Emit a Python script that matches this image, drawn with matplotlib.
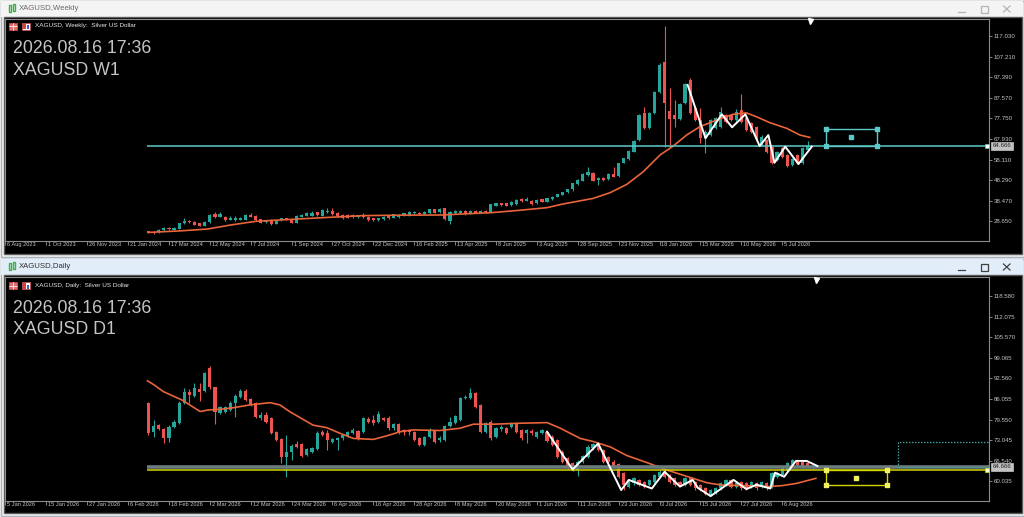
import numpy as np
import matplotlib
matplotlib.use("Agg")
import matplotlib.pyplot as plt
import matplotlib.transforms as mtransforms
from matplotlib.patches import Rectangle

plt.rcParams['font.family'] = ['Liberation Sans', 'DejaVu Sans']

# ---------------- weekly XAGUSD (W1) ----------------
w_open = [24.0, 23.7, 23.6, 24.5, 25.6, 24.7, 25.0, 28.0, 29.0, 28.6,
          27.7, 26.6, 28.2, 32.0, 30.9, 30.9, 29.5, 29.3, 29.4, 29.3,
          31.7, 31.4, 29.6, 28.3, 29.3, 27.6, 29.3, 30.1, 29.6, 28.0,
          30.9, 31.4, 31.4, 33.0, 31.2, 33.1, 33.4, 32.8, 31.7, 31.7,
          31.7, 30.7, 31.5, 30.9, 30.1, 29.3, 29.6, 31.2, 30.4, 30.6,
          31.7, 31.7, 32.5, 32.8, 32.0, 32.5, 34.4, 33.0, 34.9, 28.8,
          32.5, 32.8, 33.8, 32.5, 33.6, 32.8, 33.8, 33.3, 36.2, 37.3,
          37.3, 36.5, 36.9, 39.2, 38.5, 38.5, 37.3, 39.2, 38.1, 39.3,
          40.4, 41.4, 42.5, 43.9, 46.5, 48.1, 50.8, 51.9, 48.4, 49.2,
          48.7, 51.2, 50.3, 56.7, 58.2, 61.9, 67.5, 80.5, 73.0, 80.2,
          90.5, 104.8, 81.4, 79.4, 77.3, 84.9, 96.1, 82.6, 77.0, 68.3,
          69.8, 73.0, 73.8, 79.4, 79.4, 77.0, 81.8, 77.8, 75.4, 73.8,
          65.1, 67.5, 64.3, 57.9, 63.5, 60.3, 55.5, 60.3, 56.3, 62.8]
w_close = [23.3, 23.1, 24.5, 25.6, 24.9, 25.5, 27.7, 29.0, 28.3, 27.1,
           26.6, 28.5, 31.8, 30.6, 32.0, 29.3, 30.1, 30.4, 30.1, 31.7,
           30.9, 29.3, 28.0, 29.1, 27.3, 29.0, 30.1, 29.5, 28.0, 31.2,
           31.7, 32.5, 32.8, 31.5, 34.1, 33.8, 32.2, 31.2, 30.1, 30.4,
           30.6, 31.5, 30.6, 29.3, 29.3, 30.1, 30.9, 30.1, 32.0, 31.7,
           32.5, 33.1, 33.3, 32.0, 33.1, 34.4, 32.8, 34.7, 29.6, 33.3,
           33.6, 33.6, 32.2, 33.6, 32.8, 33.8, 33.0, 36.8, 37.3, 36.3,
           36.2, 38.1, 38.9, 38.4, 39.3, 36.8, 38.9, 38.1, 39.6, 40.4,
           41.6, 42.5, 43.9, 46.8, 48.4, 51.2, 52.4, 48.1, 49.2, 48.4,
           51.2, 50.0, 56.3, 58.7, 62.2, 67.1, 79.4, 73.0, 80.2, 90.5,
           103.2, 84.9, 77.3, 77.3, 84.6, 94.0, 80.2, 77.0, 68.3, 71.4,
           77.0, 77.8, 81.0, 76.2, 77.0, 81.0, 76.2, 72.2, 71.4, 67.8,
           69.0, 61.9, 56.7, 61.9, 59.5, 55.0, 58.2, 56.7, 63.5, 64.67]
w_high = [24.2, 24.0, 24.8, 26.0, 26.1, 25.8, 28.0, 30.1, 29.4, 28.9,
          28.0, 28.8, 32.2, 33.0, 33.0, 31.3, 31.2, 31.2, 30.6, 32.0,
          32.5, 31.8, 30.0, 29.4, 29.6, 29.3, 30.4, 30.5, 29.9, 31.5,
          32.0, 33.3, 33.4, 33.3, 34.5, 34.9, 34.9, 33.1, 32.0, 32.0,
          32.0, 31.8, 32.5, 31.2, 30.4, 30.4, 31.2, 31.5, 32.3, 32.0,
          32.8, 33.4, 33.6, 33.1, 33.4, 34.7, 34.7, 35.0, 35.2, 33.6,
          33.9, 33.9, 34.1, 33.9, 33.9, 34.1, 34.1, 37.1, 37.6, 37.6,
          37.6, 38.4, 39.2, 39.6, 40.1, 38.8, 39.2, 39.5, 39.9, 40.7,
          41.9, 42.8, 44.2, 47.1, 48.8, 51.6, 54.7, 52.2, 50.0, 49.6,
          51.6, 54.7, 56.7, 59.1, 62.6, 67.5, 80.0, 83.3, 80.8, 91.0,
          104.0, 121.8, 92.1, 86.5, 85.2, 94.5, 96.8, 83.0, 82.6, 72.0,
          77.6, 78.3, 83.0, 80.0, 79.9, 82.1, 89.4, 78.3, 75.9, 74.3,
          69.6, 68.0, 64.8, 62.4, 64.0, 60.8, 58.7, 60.8, 64.0, 67.0]
w_low = [23.1, 22.5, 23.3, 24.3, 24.6, 24.5, 24.8, 27.6, 28.0, 26.8,
         26.3, 26.3, 28.0, 30.3, 30.6, 29.0, 29.2, 29.0, 29.1, 29.1,
         30.6, 29.0, 27.7, 28.0, 27.0, 27.3, 29.0, 29.2, 27.7, 27.8,
         30.6, 31.1, 31.1, 31.2, 31.0, 32.8, 31.9, 30.9, 29.8, 30.1,
         30.3, 30.4, 30.3, 29.0, 29.0, 29.0, 29.3, 29.8, 30.1, 30.3,
         31.4, 31.4, 32.2, 31.7, 31.7, 32.2, 32.5, 32.7, 29.3, 27.5,
         32.2, 32.5, 31.9, 32.2, 32.5, 32.5, 32.7, 33.0, 35.9, 36.0,
         35.9, 36.2, 36.6, 38.1, 38.2, 36.5, 37.0, 37.8, 37.8, 39.0,
         40.1, 41.1, 42.2, 43.3, 46.2, 47.8, 50.5, 47.8, 46.0, 48.0,
         48.4, 49.7, 50.0, 56.3, 57.9, 61.5, 67.1, 72.5, 72.6, 79.8,
         90.0, 64.3, 64.3, 73.8, 76.8, 84.4, 79.7, 76.5, 65.9, 61.1,
         69.3, 72.5, 73.3, 75.7, 76.5, 76.5, 75.7, 71.7, 70.9, 67.3,
         64.6, 61.4, 56.2, 57.4, 59.0, 54.5, 55.0, 56.2, 55.8, 62.4]

w_ma_bar = [0, 6, 11.5, 16, 21, 27, 35.5, 42, 48.5, 57.5, 61.5, 67, 71.5, 78,
            81, 87, 90.3, 93.6, 96.8, 100.1, 102.7, 105.3, 107.9, 111.2,
            114.4, 117, 119, 121.6, 124.9, 127.5, 129.4]
w_ma_val = [23.4, 24.1, 25.0, 26.9, 28.7, 29.5, 30.6, 31.4, 31.6, 31.7, 32.2,
            32.8, 33.7, 35.2, 36.9, 39.6, 42.3, 46.3, 52.3, 60.3, 64.6, 69.8,
            73.8, 77.0, 79.7, 80.4, 78.5, 75.7, 73.0, 69.8, 68.7]

w_zz_bar = [105.5, 109, 112.2, 114.2, 116.8, 119.6, 121.3, 122.5, 124.6, 127.2, 129.8]
w_zz_val = [93.7, 68.3, 79.7, 73.5, 79.7, 64.6, 69.8, 56.6, 64.3, 56.0, 64.3]

w_ticks = [117.030, 107.210, 97.390, 87.570, 77.750, 67.930, 58.110, 48.290, 38.470, 28.650]
w_dates = ["6 Aug 2023", "1 Oct 2023", "26 Nov 2023", "21 Jan 2024", "17 Mar 2024",
           "12 May 2024", "7 Jul 2024", "1 Sep 2024", "27 Oct 2024", "22 Dec 2024",
           "16 Feb 2025", "13 Apr 2025", "8 Jun 2025", "3 Aug 2025", "28 Sep 2025",
           "23 Nov 2025", "18 Jan 2026", "15 Mar 2026", "10 May 2026", "5 Jul 2026"]

# ---------------- daily XAGUSD (D1) ----------------
d_open = [84.9, 75.6, 77.8, 76.5, 73.8, 77.3, 78.6, 84.9, 88.2, 87.1,
          89.2, 88.7, 95.7, 89.7, 81.7, 82.1, 82.6, 84.9, 86.8, 88.7,
          86.1, 84.7, 80.2, 81.0, 80.0, 75.7, 73.3, 67.8, 69.4, 71.7,
          71.7, 68.4, 69.4, 70.3, 75.7, 75.4, 72.6, 73.1, 73.6, 74.4,
          75.4, 76.0, 75.7, 79.6, 79.4, 78.9, 80.0, 80.2, 76.8, 78.2,
          76.3, 76.3, 75.7, 73.6, 71.5, 74.0, 76.0, 73.1, 73.1, 77.5,
          78.6, 79.4, 86.3, 86.3, 87.9, 84.2, 75.7, 78.9, 74.2, 76.5,
          76.8, 77.3, 78.4, 76.3, 75.2, 76.1, 74.2, 75.4, 75.7, 74.2,
          73.1, 69.4, 67.3, 65.7, 63.6, 66.3, 67.8, 70.5, 71.8, 70.0,
          67.8, 66.3, 65.4, 62.6, 58.4, 59.4, 60.5, 59.9, 58.9, 59.9,
          61.5, 63.1, 62.1, 61.0, 59.9, 58.9, 61.0, 59.9, 58.9, 57.8,
          55.7, 56.5, 57.8, 58.9, 60.5, 58.4, 59.9, 59.4, 58.4, 59.4,
          58.4, 59.4, 58.4, 61.5, 62.1, 63.6, 65.2, 66.3, 66.3, 65.7,
          64.3]
d_close = [75.2, 77.5, 76.6, 73.6, 77.3, 78.9, 84.9, 88.4, 87.3, 89.4,
           88.4, 94.2, 89.7, 82.1, 83.6, 83.6, 84.9, 87.1, 88.7, 85.7,
           84.2, 80.5, 81.0, 78.9, 75.4, 73.1, 67.8, 69.4, 71.3, 71.0,
           68.0, 70.3, 70.5, 75.4, 74.7, 73.1, 73.3, 73.6, 74.7, 75.7,
           76.3, 73.6, 80.0, 78.9, 78.4, 81.2, 79.4, 76.8, 78.2, 75.4,
           75.7, 75.7, 73.1, 71.5, 74.0, 76.0, 72.6, 73.6, 77.5, 78.9,
           80.7, 86.3, 86.8, 87.9, 83.6, 75.7, 78.4, 73.6, 76.8, 77.3,
           75.4, 78.4, 75.7, 73.6, 76.3, 75.2, 75.7, 76.3, 72.8, 71.5,
           67.8, 66.3, 64.2, 63.6, 66.3, 68.1, 71.0, 71.8, 70.0, 66.3,
           66.3, 64.7, 61.5, 58.9, 60.5, 61.0, 58.9, 58.4, 60.5, 62.1,
           63.1, 61.5, 59.9, 58.9, 58.9, 61.0, 58.9, 57.8, 57.3, 56.1,
           57.3, 57.8, 59.4, 60.5, 58.4, 59.4, 57.8, 57.8, 59.9, 57.8,
           59.9, 57.8, 62.6, 62.6, 64.2, 65.7, 66.8, 65.2, 64.7, 64.7,
           64.67]
d_high = [85.2, 79.4, 78.2, 76.8, 77.7, 79.3, 85.3, 89.4, 89.1, 91.2,
          91.0, 94.7, 96.6, 90.0, 84.0, 84.0, 85.3, 87.5, 89.1, 89.1,
          86.5, 85.1, 81.8, 82.0, 80.4, 76.1, 73.7, 74.7, 71.7, 72.9,
          72.1, 70.7, 70.9, 75.8, 76.4, 76.3, 73.7, 74.0, 75.1, 76.1,
          76.9, 76.4, 80.4, 80.3, 81.1, 82.3, 80.4, 80.6, 78.6, 78.6,
          76.7, 76.7, 76.1, 74.0, 74.4, 76.8, 76.4, 74.5, 77.9, 80.5,
          81.1, 86.7, 87.4, 89.4, 88.3, 84.6, 78.8, 79.3, 77.2, 77.7,
          77.2, 78.9, 78.8, 76.7, 76.7, 76.5, 76.1, 76.7, 76.1, 74.6,
          73.5, 69.8, 67.7, 66.1, 66.7, 68.5, 71.4, 72.2, 72.2, 70.4,
          68.2, 66.7, 65.8, 63.0, 60.9, 61.4, 60.9, 60.3, 60.9, 62.5,
          63.5, 63.5, 62.5, 61.4, 60.3, 61.4, 61.4, 60.3, 59.3, 58.2,
          57.7, 58.2, 59.8, 60.9, 60.9, 59.8, 60.3, 59.8, 60.3, 59.8,
          60.3, 59.8, 63.0, 63.0, 64.6, 66.1, 67.2, 66.7, 66.7, 66.1,
          65.3]
d_low = [74.7, 74.0, 76.2, 72.1, 72.4, 77.0, 78.3, 84.5, 84.7, 86.8,
         85.5, 88.3, 89.2, 78.2, 81.3, 81.7, 82.2, 80.5, 86.4, 85.3,
         83.8, 80.1, 79.4, 78.5, 75.0, 72.7, 65.7, 61.5, 66.8, 70.6,
         67.6, 68.0, 69.0, 69.9, 74.3, 70.0, 72.2, 70.0, 73.2, 74.0,
         75.0, 73.2, 75.3, 78.5, 78.0, 78.5, 79.0, 76.4, 76.4, 75.0,
         74.7, 74.7, 72.7, 71.1, 71.1, 73.6, 72.2, 72.4, 72.7, 77.1,
         78.2, 79.0, 85.9, 85.9, 83.2, 75.3, 75.3, 73.2, 73.8, 76.1,
         75.0, 76.9, 75.3, 73.1, 72.1, 74.8, 73.8, 75.0, 72.4, 71.1,
         67.4, 65.9, 63.8, 63.2, 61.7, 65.9, 67.4, 70.1, 69.6, 65.9,
         65.9, 64.3, 61.1, 57.3, 58.0, 59.0, 58.5, 58.0, 58.5, 59.5,
         61.1, 61.1, 59.5, 58.5, 58.5, 58.5, 58.5, 57.4, 56.9, 55.7,
         55.3, 56.1, 57.4, 58.5, 58.0, 58.0, 57.4, 57.4, 58.0, 57.4,
         58.0, 57.4, 58.0, 61.1, 61.7, 63.2, 64.8, 64.8, 64.3, 64.3,
         64.0]

d_ma_bar = [-0.2, 1.1, 2.9, 6.6, 10.1, 11.7, 14, 16.6, 19.9, 23.8, 25.7, 27.7,
            32.2, 34.9, 37.5, 40.1, 44.0, 46.6, 49.2, 51.8, 57.0, 60.9, 63.6,
            67.5, 72.7, 78, 80.5, 84.5, 87.1, 90.4, 93.6, 97.5, 101.5, 105.4,
            109.3, 112, 116.5, 121.5, 124, 126.8, 130.6]
d_ma_val = [91.8, 90.5, 88.4, 85.7, 82.1, 82.6, 82.8, 83.3, 84.2, 84.9, 84.2,
            82.0, 77.8, 77.0, 75.2, 73.6, 73.3, 74.4, 75.7, 76.3, 76.1, 76.8,
            78.1, 78.1, 78.4, 78.6, 76.9, 73.6, 72.6, 70.9, 68.2, 66.0, 63.6,
            61.6, 59.6, 58.9, 58.7, 58.4, 58.7, 59.4, 61.0]

d_zz_bar = [78, 83, 88, 92.5, 94, 98.5, 101, 104, 106.5, 107.5, 110, 114.5,
            117, 119, 121.7, 122.6, 124.4, 126.7, 128.8, 130.9]
d_zz_val = [75.7, 63.8, 72.0, 57.3, 60.5, 57.8, 63.1, 58.4, 60.5, 58.0, 55.4,
            60.5, 57.6, 59.0, 57.8, 62.8, 61.5, 66.5, 66.5, 64.9]

d_ticks = [118.580, 112.075, 105.570, 99.065, 92.560, 86.055, 79.550, 73.045, 66.540, 60.035]
d_dates = ["5 Jan 2026", "15 Jan 2026", "27 Jan 2026", "6 Feb 2026", "18 Feb 2026",
           "2 Mar 2026", "12 Mar 2026", "24 Mar 2026", "6 Apr 2026", "16 Apr 2026",
           "28 Apr 2026", "8 May 2026", "20 May 2026", "1 Jun 2026", "11 Jun 2026",
           "23 Jun 2026", "3 Jul 2026", "15 Jul 2026", "27 Jul 2026", "6 Aug 2026"]

bid = 64.666
yellow_level = 63.5
# objects drawn on the charts: (first bar, last bar, low price, high price)
w_box = (132.5, 142.6, 64.666, 72.7)
d_box = (132.5, 144.6, 58.9, 63.5)
d_dotted = (146.6, 164.4, 64.666, 72.54)

BULL = '#26a69a'
BEAR = '#ef5350'
MA_COL = '#e8653a'
CYAN = '#5ec8c8'
YEL = '#d6d600'
TXT = '#c4c4c4'
W, H = 1024, 517
XMIN, XMAX = -28.08, 164.48

fig = plt.figure(figsize=(W / 100, H / 100), dpi=100)
fig.patch.set_facecolor('#f0f0f0')
bg = fig.add_axes([0, 0, 1, 1], zorder=0)
bg.set_xlim(0, W)
bg.set_ylim(H, 0)
bg.axis('off')
# overlay for the text drawn over the charts
fg = fig.add_axes([0, 0, 1, 1], zorder=10)
fg.set_xlim(0, W)
fg.set_ylim(H, 0)
fg.axis('off')
fg.patch.set_alpha(0)


def window(y0, y1, title, active):
    bar = '#e1edf9' if active else '#f4f4f4'
    btn = '#404040' if active else '#b4b4b4'
    bg.add_patch(Rectangle((0.5, y0 + 0.5), W - 1, y1 - y0 - 1, fc='#f0f0f0', ec='#aab4be', lw=1))
    bg.add_patch(Rectangle((1, y0 + 1), W - 2, 15.5, fc=bar, ec='none'))
    bg.add_patch(Rectangle((3.5, y0 + 17), 1018, y1 - y0 - 20, fc='black', ec='#5a5a5a', lw=1))
    # title icon
    bg.add_patch(Rectangle((8.5, y0 + 5), 2, 7, fc='none', ec='#3cb043', lw=1))
    bg.add_patch(Rectangle((12.5, y0 + 4), 2, 7, fc='none', ec='#3cb043', lw=1))
    bg.text(19, y0 + 8.6, title, fontsize=5.6, color='#303030' if active else '#6a6a6a',
            va='center', ha='left')
    yc = y0 + 9
    bg.plot([958, 965], [yc + 2.5, yc + 2.5], color=btn, lw=0.9)
    bg.add_patch(Rectangle((981, yc - 3.5), 7, 7, fc='none', ec=btn, lw=0.9))
    bg.plot([1003.5, 1010], [yc - 3, yc + 3], color=btn, lw=0.9)
    bg.plot([1003.5, 1010], [yc + 3, yc - 3], color=btn, lw=0.9)


def info(y0, name, tf, code):
    yi = y0 + 26
    fg.add_patch(Rectangle((9, yi - 3.5), 8, 7, fc='#e07070', ec='#c04848', lw=0.6))
    fg.plot([9, 17], [yi, yi], color='white', lw=0.5)
    fg.plot([13, 13], [yi - 3.5, yi + 3.5], color='white', lw=0.5)
    fg.add_patch(Rectangle((22, yi - 3.5), 8, 7, fc='white', ec='#c04848', lw=0.6))
    fg.add_patch(Rectangle((23.2, yi - 2.5), 2.4, 5.5, fc='#d84040', ec='none'))
    fg.add_patch(Rectangle((26.6, yi - 1), 2.4, 4, fc='#3060c0', ec='none'))
    fg.text(35, yi, f"{name}, {tf}:  Silver US Dollar", fontsize=4.6, color='#e6e6e6',
            va='center', ha='left')
    fg.text(13, y0 + 53.3, "2026.08.16 17:36", fontsize=12.8, color=TXT, va='baseline', ha='left')
    fg.text(13, y0 + 75, f"{name} {code}", fontsize=12.8, color=TXT, va='baseline', ha='left')


def chart_axes(y0, y1):
    ax = fig.add_axes([5 / W, 1 - y1 / H, 984 / W, (y1 - y0) / H], zorder=5)
    ax.set_facecolor('black')
    for s in ax.spines.values():
        s.set_color('#8c8c8c')
        s.set_linewidth(0.8)
    ax.set_xlim(XMIN, XMAX)
    return ax


def candles(ax, o, h, l, c, min_body):
    o, h, l, c = map(np.asarray, (o, h, l, c))
    idx = np.arange(len(o))
    cols = np.where(c >= o, BULL, BEAR)
    ax.vlines(idx, l, h, colors=cols, lw=0.8, zorder=2)
    body = np.maximum(np.abs(c - o), min_body)
    ax.bar(idx, body, bottom=np.minimum(o, c), width=0.62, color=cols, lw=0, zorder=3)


def axis_labels(ax, ticks, dates):
    ax.yaxis.tick_right()
    ax.set_yticks(ticks)
    ax.set_yticklabels([f"{t:.3f}" for t in ticks])
    ax.tick_params(axis='y', colors='#9a9a9a', labelcolor=TXT, labelsize=4.4,
                   length=2.2, width=0.6, pad=1.0)
    pos = [-28 + 8 * k for k in range(len(dates))]
    ax.set_xticks(pos)
    ax.set_xticklabels(dates, ha='left')
    ax.tick_params(axis='x', colors='#9a9a9a', labelcolor=TXT, labelsize=4.1,
                   length=3, width=0.6, pad=-2.0)
    off = mtransforms.ScaledTranslation(1.4 / 72, 0, fig.dpi_scale_trans)
    for lbl in ax.get_xticklabels():
        lbl.set_transform(lbl.get_transform() + off)


def bid_label(ax):
    tr = mtransforms.blended_transform_factory(ax.transAxes, ax.transData)
    ax.text(1.0035, bid, f"{bid:.3f}", transform=tr, fontsize=4.4, color='#202020',
            va='center', ha='left', clip_on=False, zorder=6,
            bbox=dict(boxstyle='square,pad=0.22', fc='#c2c2c2', ec='#e0e0e0', lw=0.4))


# ---------- windows ----------
window(0, 257, "XAGUSD,Weekly", False)
window(258, 516, "XAGUSD,Daily", True)
info(0, "XAGUSD", "Weekly", "W1")
info(259.5, "XAGUSD", "Daily", "D1")

# ---------- weekly chart ----------
ax1 = chart_axes(19, 240.7)
ax1.set_ylim(19.45, 125.13)
candles(ax1, w_open, w_high, w_low, w_close, 0.3)
ax1.plot(w_ma_bar, w_ma_val, color=MA_COL, lw=1.2, zorder=4)
ax1.plot(w_zz_bar, w_zz_val, color='white', lw=1.4, zorder=5)
ax1.hlines(bid, -0.3, XMAX, color=CYAN, lw=1.1, zorder=4)
b0, b1, p0, p1 = w_box
ax1.add_patch(Rectangle((b0, p0), b1 - b0, p1 - p0, fill=False, ec=CYAN, lw=1.0, zorder=5))
ax1.plot([b0, b1, b0, b1, (b0 + b1) / 2], [p0, p0, p1, p1, (p0 + p1) / 2], ls='none',
         marker='s', ms=2.2, color=CYAN, zorder=6)
ax1.plot(164.0, bid, marker='s', ms=3.2, mfc='white', mec=CYAN, mew=0.5, clip_on=False, zorder=6)
ax1.plot(129.4, 124.0, marker='v', ms=3.6, color='white', clip_on=False, zorder=6)
axis_labels(ax1, w_ticks, w_dates)
bid_label(ax1)

# ---------- daily chart ----------
ax2 = chart_axes(277, 500.7)
ax2.set_ylim(53.94, 124.58)
candles(ax2, d_open, d_high, d_low, d_close, 0.2)
ax2.plot(d_ma_bar, d_ma_val, color=MA_COL, lw=1.2, zorder=4)
ax2.plot(d_zz_bar, d_zz_val, color='white', lw=1.4, zorder=5)
ax2.hlines(bid, -0.3, XMAX, color='#6a7c7e', lw=2.6, zorder=4)
ax2.hlines(yellow_level, -0.3, XMAX, color=YEL, lw=1.1, zorder=4)
b0, b1, p0, p1 = d_box
ax2.add_patch(Rectangle((b0, p0), b1 - b0, p1 - p0, fill=False, ec=YEL, lw=1.0, zorder=5))
ax2.plot([b0, b1, b0, b1, (b0 + b1) / 2], [p0, p0, p1, p1, (p0 + p1) / 2], ls='none',
         marker='s', ms=2.2, color='#f0f060', zorder=6)
b0, b1, p0, p1 = d_dotted
ax2.add_patch(Rectangle((b0, p0), b1 - b0, p1 - p0, fill=False, ec='#3fa0a0', lw=0.9,
                        ls=(0, (1.2, 1.2)), zorder=5))
ax2.plot(164.0, yellow_level, marker='s', ms=3.2, mfc='#ffffd0', mec=YEL, mew=0.5,
         clip_on=False, zorder=6)
ax2.plot(130.6, 123.5, marker='v', ms=3.6, color='white', clip_on=False, zorder=6)
axis_labels(ax2, d_ticks, d_dates)
bid_label(ax2)

fig.savefig("out.png", dpi=100, facecolor=fig.get_facecolor())
